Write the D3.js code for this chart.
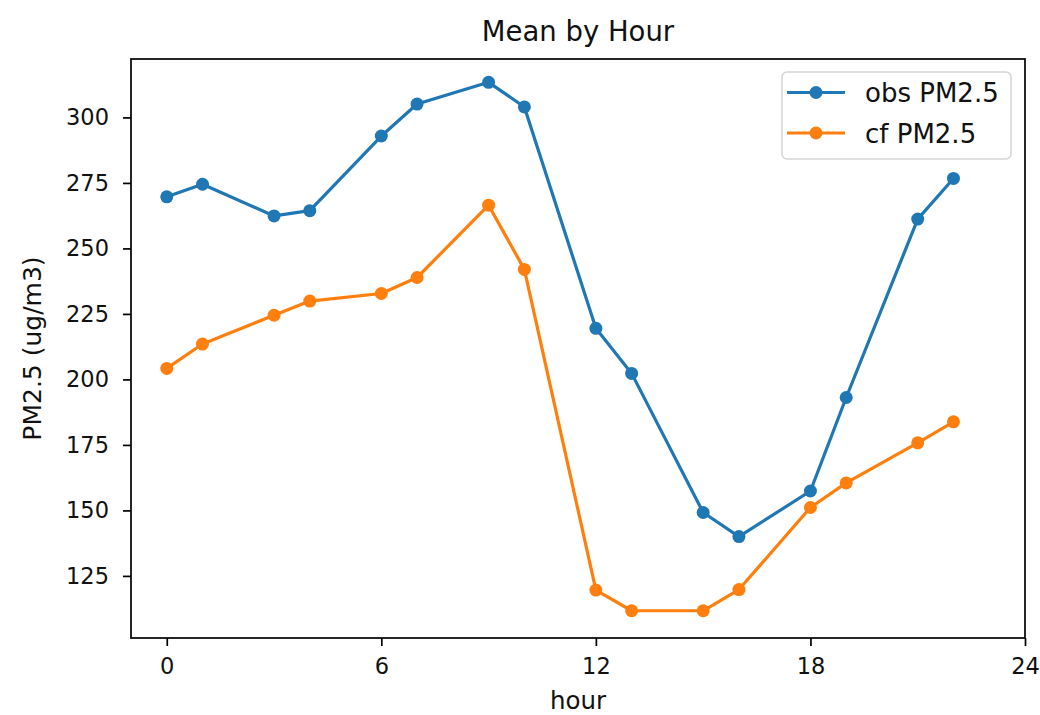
<!DOCTYPE html>
<html>
<head>
<meta charset="utf-8">
<script src="https://cdn.jsdelivr.net/npm/d3@7"></script>
<style>
  html, body { margin: 0; padding: 0; background: #fff; }
  svg { display: block; font-family: "DejaVu Sans", sans-serif; }
</style>
</head>
<body>
<svg id="chart" width="1040" height="715"></svg>
<script>
// Hourly mean PM2.5: observed vs counterfactual
const hours = [0, 1, 3, 4, 6, 7, 9, 10, 12, 13, 15, 16, 18, 19, 21, 22];
const obsPM25 = [269.7, 274.5, 262.4, 264.4, 292.9, 305.1, 313.4, 304.0, 219.5, 202.3, 149.2, 140.0, 157.4, 193.1, 261.2, 276.7];
const cfPM25  = [204.2, 213.5, 224.5, 229.9, 232.8, 238.9, 266.5, 242.0, 119.6, 111.7, 111.7, 119.8, 151.1, 160.5, 175.8, 183.8];
const xTicks = [0, 6, 12, 18, 24];
const yTicks = [125, 150, 175, 200, 225, 250, 275, 300];
const seriesNames = ["obs PM2.5", "cf PM2.5"];
const seriesColors = ["#1f77b4", "#ff7f0e"];

const svg = d3.select("#chart");
const plot = { left: 131, right: 1025, top: 59, bottom: 638 };
const textColor = "#111";

const x = d3.scaleLinear().domain([-1, 24]).range([plot.left, plot.right]);
const y = d3.scaleLinear().domain([101.3, 322.3]).range([plot.bottom, plot.top]);

// Axes
const xAxis = svg.append("g")
  .attr("transform", `translate(0,${plot.bottom})`)
  .call(d3.axisBottom(x).tickValues(xTicks).tickFormat(d3.format("d")).tickSize(8).tickPadding(12));
const yAxis = svg.append("g")
  .attr("transform", `translate(${plot.left},0)`)
  .call(d3.axisLeft(y).tickValues(yTicks).tickFormat(d3.format("d")).tickSize(8).tickPadding(14));

[xAxis, yAxis].forEach(g => {
  g.select(".domain").remove();
  g.selectAll(".tick line").attr("stroke", "#000").attr("stroke-width", 1.7);
  g.selectAll(".tick text").attr("fill", textColor).style("font-size", "22.5px").style("font-family", "DejaVu Sans, sans-serif");
});

// Series
const series = [obsPM25, cfPM25];
const line = d3.line().x(d => x(d[0])).y(d => y(d[1]));
series.forEach((vals, i) => {
  const pts = hours.map((h, k) => [h, vals[k]]);
  const g = svg.append("g");
  g.append("path")
    .datum(pts)
    .attr("d", line)
    .attr("fill", "none")
    .attr("stroke", seriesColors[i])
    .attr("stroke-width", 3.2)
    .attr("stroke-linejoin", "round");
  g.selectAll("circle")
    .data(pts)
    .join("circle")
    .attr("cx", d => x(d[0]))
    .attr("cy", d => y(d[1]))
    .attr("r", 6.5)
    .attr("fill", seriesColors[i]);
});

// Frame
svg.append("rect")
  .attr("x", plot.left).attr("y", plot.top)
  .attr("width", plot.right - plot.left).attr("height", plot.bottom - plot.top)
  .attr("fill", "none").attr("stroke", "#000").attr("stroke-width", 1.7);

// Title and axis labels
svg.append("text")
  .attr("x", (plot.left + plot.right) / 2).attr("y", 41)
  .attr("text-anchor", "middle")
  .attr("fill", textColor)
  .style("font-size", "27.5px")
  .text("Mean by Hour");
svg.append("text")
  .attr("x", (plot.left + plot.right) / 2).attr("y", 709)
  .attr("text-anchor", "middle")
  .attr("fill", textColor)
  .style("font-size", "24.5px")
  .text("hour");
svg.append("text")
  .attr("transform", `translate(41,${(plot.top + plot.bottom) / 2}) rotate(-90)`)
  .attr("text-anchor", "middle")
  .attr("fill", textColor)
  .style("font-size", "25px")
  .text("PM2.5 (ug/m3)");

// Legend
const legend = svg.append("g");
legend.append("rect")
  .attr("x", 782).attr("y", 72).attr("width", 229).attr("height", 87)
  .attr("rx", 5).attr("ry", 5)
  .attr("fill", "#fff").attr("fill-opacity", 0.8)
  .attr("stroke", "#d5d5d5").attr("stroke-width", 1.5);
seriesNames.forEach((name, i) => {
  const cy = 92.5 + i * 40.5;
  legend.append("line")
    .attr("x1", 787).attr("x2", 845).attr("y1", cy).attr("y2", cy)
    .attr("stroke", seriesColors[i]).attr("stroke-width", 3.2);
  legend.append("circle")
    .attr("cx", 816).attr("cy", cy).attr("r", 6.5)
    .attr("fill", seriesColors[i]);
  legend.append("text")
    .attr("x", 865).attr("y", cy + 9.5)
    .attr("fill", textColor)
    .style("font-size", "26px")
    .text(name);
});
</script>
</body>
</html>
